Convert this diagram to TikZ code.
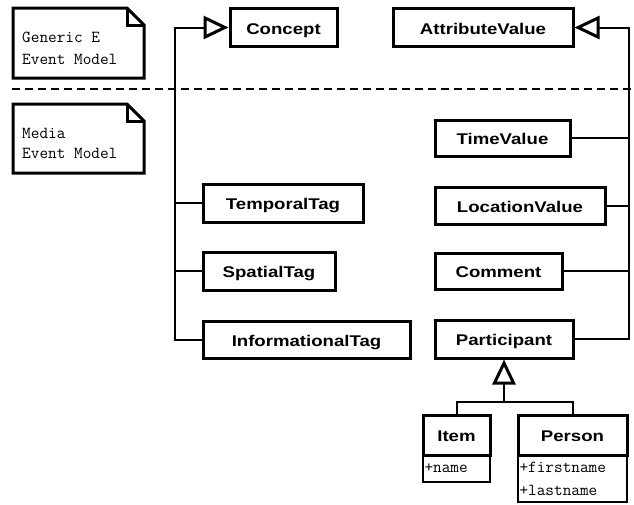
\documentclass[tikz,border=0pt]{standalone}
\usepackage{fontspec}
\setmainfont{Liberation Sans}
\newfontfamily\labfont{Liberation Sans}[FakeStretch=1.2]
\usetikzlibrary{arrows.meta,calc}
\begin{document}
\begin{tikzpicture}[x=1pt,y=-1pt,
  cls/.style={draw, line width=3pt, inner sep=0pt, text height=13pt, text depth=0pt, font=\labfont\bfseries\fontsize{15.5}{18}\selectfont},
  attr/.style={draw, line width=2.5pt, inner sep=1pt, align=left, font=\ttfamily\fontsize{16.8}{23}\selectfont},
  conn/.style={line width=2pt},
  gen/.style={line width=2pt, -{Triangle[open, length=25pt, width=23pt, line width=3pt]}},
  notebox/.style={line width=3pt, line join=miter},
  notetext/.style={anchor=north west, inner sep=0pt, align=left},
  dashline/.style={line width=2.5pt, dash pattern=on 8pt off 5pt}]
\useasboundingbox (0,0) rectangle (634,504);

% notes
\draw[notebox] (13,8) -- (127,8) -- (144,25) -- (144,78) -- (13,78) -- cycle;
\draw[notebox] (127,8) -- (127,25) -- (144,25);
\node[notetext, font=\ttfamily\fontsize{16.8}{22}\selectfont] (note1) at (22,32) {Generic E\\Event Model};
\draw[notebox] (13,104) -- (127,104) -- (144,121) -- (144,173) -- (13,173) -- cycle;
\draw[notebox] (127,104) -- (127,121) -- (144,121);
\node[notetext, font=\ttfamily\fontsize{16.8}{20}\selectfont] (note2) at (22,128) {Media\\Event Model};

% separator
\coordinate (dl) at (12,89);
\coordinate (dr) at (631,89);
\draw[dashline] (dl) -- (dr);

% classes
\node[cls, minimum width=107pt, minimum height=38pt] (concept) at (283.5,27.5) {Concept};
\node[cls, minimum width=180pt, minimum height=38pt] (attrval) at (483,27.5) {AttributeValue};
\node[cls, minimum width=135pt, minimum height=36pt] (time) at (502.5,138) {TimeValue};
\node[cls, minimum width=170pt, minimum height=37pt] (loc) at (520,205.5) {LocationValue};
\node[cls, minimum width=127pt, minimum height=36pt] (comment) at (498.5,271) {Comment};
\node[cls, minimum width=138pt, minimum height=38pt] (part) at (504,339) {Participant};
\node[cls, minimum width=160pt, minimum height=38pt] (temporal) at (283,203) {TemporalTag};
\node[cls, minimum width=132pt, minimum height=38pt] (spatial) at (269,271) {SpatialTag};
\node[cls, minimum width=207pt, minimum height=37pt] (info) at (306.5,339.5) {InformationalTag};

\node[cls, minimum width=67pt, minimum height=40pt] (itemH) at (456.5,435) {Item};
\node[attr, minimum width=67pt, minimum height=27pt, text width=64pt] (itemB) at (456.5,468.5) {+name};
\node[cls, minimum width=109pt, minimum height=40pt] (personH) at (572.5,435) {Person};
\node[attr, minimum width=109pt, minimum height=47pt, text width=106pt] (personB) at (572.5,478.5) {+firstname\\+lastname};

% generalisation to Concept
\draw[gen] (info.west) -- ++(-27,0) |- (concept.west);
\draw[conn] (temporal.west) -- ++(-27,0);
\draw[conn] (spatial.west) -- ++(-27,0);

% generalisation to AttributeValue
\coordinate (rt) at (629,339);
\draw[gen] (part.east) -- (rt) |- (attrval.east);
\draw[conn] (time.east) -- (time.east -| rt);
\draw[conn] (loc.east) -- (loc.east -| rt);
\draw[conn] (comment.east) -- (comment.east -| rt);

% generalisation to Participant
\coordinate (j) at (504,402);
\draw[gen] (j) -- (part.south);
\draw[conn] (itemH.north) |- (j) -| (personH.north);
\end{tikzpicture}
\end{document}
